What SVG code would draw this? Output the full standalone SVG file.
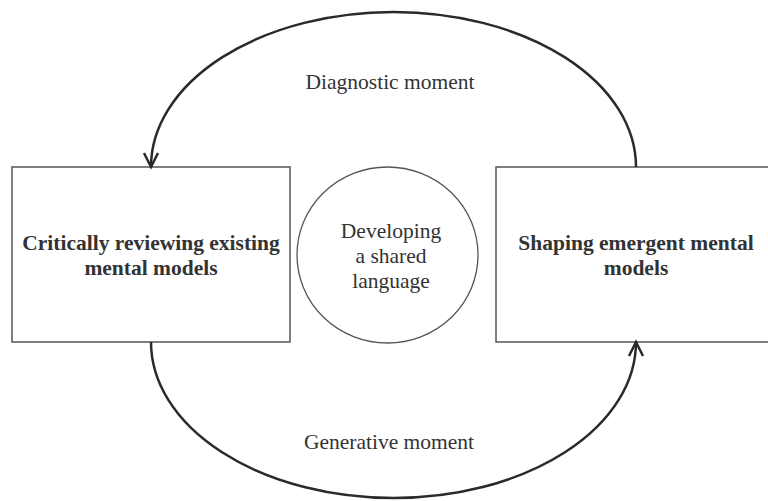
<svg xmlns="http://www.w3.org/2000/svg" width="768" height="501" viewBox="0 0 768 501">
<defs>
<style>
.box{fill:#fff;stroke:#555;stroke-width:1.5}
.arc{fill:none;stroke:#2a2a2a;stroke-width:2.5}
text{font-family:'Liberation Serif','DejaVu Serif',serif;font-size:21.5px;fill:#333;text-anchor:middle}
.bold{font-weight:bold}
</style>
<marker id="arr" viewBox="0 0 20 20" refX="16" refY="10" markerWidth="20" markerHeight="20" markerUnits="userSpaceOnUse" orient="auto">
<path d="M2,3 L16,10 L2,17" fill="none" stroke="#2a2a2a" stroke-width="2.5"/>
</marker>
</defs>
<rect width="768" height="501" fill="#fff"/>
<g id="left-node">
<rect class="box" x="12" y="167" width="278" height="175"/>
<text class="bold" x="151" y="250" font-family="Liberation Serif, serif">Critically reviewing existing</text>
<text class="bold" x="151" y="275" font-family="Liberation Serif, serif">mental models</text>
</g>
<g id="right-node">
<rect class="box" x="496" y="167" width="290" height="175"/>
<text class="bold" x="636" y="250" font-family="Liberation Serif, serif">Shaping emergent mental</text>
<text class="bold" x="636" y="275" font-family="Liberation Serif, serif">models</text>
</g>
<g id="center-node">
<ellipse cx="387.5" cy="255" rx="90.5" ry="88" fill="#fff" stroke="#555" stroke-width="1.3"/>
<text x="391" y="238" font-family="Liberation Serif, serif">Developing</text>
<text x="391" y="263" font-family="Liberation Serif, serif">a shared</text>
<text x="391" y="288" font-family="Liberation Serif, serif">language</text>
</g>
<g id="connectors">
<path class="arc" d="M636,167 A242.5,155 0 0 0 151,167" marker-end="url(#arr)"/>
<path class="arc" d="M151,342 A242.5,156 0 0 0 636,342" marker-end="url(#arr)"/>
<text x="390" y="89" font-family="Liberation Serif, serif">Diagnostic moment</text>
<text x="389" y="449" font-family="Liberation Serif, serif">Generative moment</text>
</g>
</svg>
